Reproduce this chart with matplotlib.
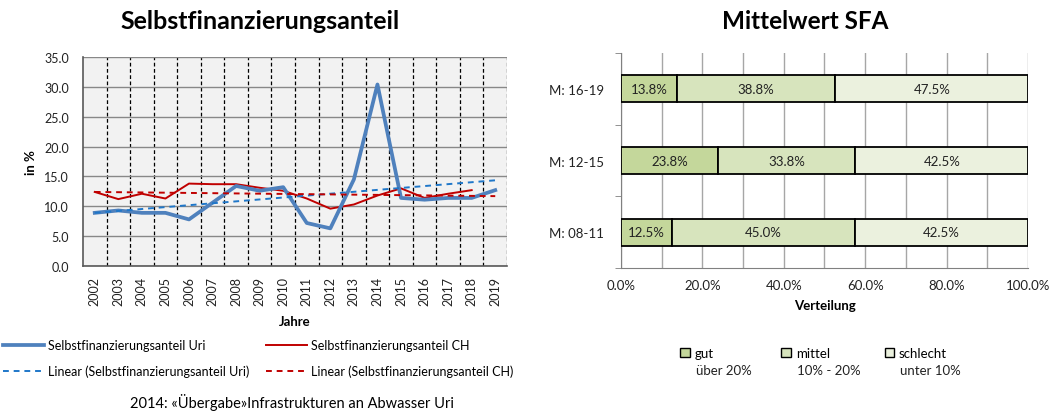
import matplotlib
matplotlib.use("Agg")
import matplotlib.pyplot as plt
import numpy as np
from matplotlib.patches import Patch

plt.rcParams['font.family'] = ['Lato', 'DejaVu Sans']

# data, left chart
years = [str(y) for y in range(2002, 2020)]
sfa_uri = [8.9, 9.3, 8.9, 8.9, 7.8, 10.6, 13.4, 12.6, 13.2, 7.2, 6.3, 14.5,
           30.4, 11.4, 11.1, 11.4, 11.4, 12.7]
sfa_ch = [12.4, 11.2, 12.1, 11.3, 13.8, 13.7, 13.7, 13.1, 12.6, 11.3, 9.6,
          10.3, 11.8, 13.0, 11.4, 12.1, 12.7]
# trend line end points (2002, 2019)
trend_uri = [8.9, 14.35]
trend_ch = [12.4, 11.7]

# data, right chart
periods = ["M: 08-11", "M: 12-15", "M: 16-19"]
gut = [12.5, 23.8, 13.8]
mittel = [45.0, 33.8, 38.8]
schlecht = [42.5, 42.5, 47.5]
cat_names = ["gut", "mittel", "schlecht"]
cat_sub = ["über 20%", "10% - 20%", "unter 10%"]
cat_colors = ["#C4D79B", "#D7E4BD", "#EBF1DE"]

fig = plt.figure(figsize=(10.53, 4.14), dpi=100)

# ---------- left chart
ax = fig.add_axes([0.0788, 0.3551, 0.4027, 0.5048])
ax.set_facecolor("#F2F2F2")
x = np.arange(len(years))
ax.plot(x, sfa_uri, color="#4F81BD", lw=2.7, solid_joinstyle="round",
        label="Selbstfinanzierungsanteil Uri", zorder=4)
ax.plot(x[:len(sfa_ch)], sfa_ch, color="#C00000", lw=1.4,
        label="Selbstfinanzierungsanteil CH", zorder=3)
ax.plot([x[0], x[-1]], trend_uri, color="#1F77C9", lw=1.4, ls=(0, (3, 2.5)),
        label="Linear (Selbstfinanzierungsanteil Uri)", zorder=5)
ax.plot([x[0], x[-1]], trend_ch, color="#C00000", lw=1.4, ls=(0, (3, 2.5)),
        label="Linear (Selbstfinanzierungsanteil CH)", zorder=5)

ax.set_xlim(-0.5, len(years) - 0.5)
ax.set_ylim(0, 35)
ax.set_yticks(np.arange(0, 36, 5))
ax.set_yticklabels([f"{v:.1f}" for v in np.arange(0, 36, 5)])
ax.set_xticks(x)
ax.set_xticklabels(years, rotation=90)
ax.set_xticks(np.arange(0.5, len(years), 1), minor=True)
ax.tick_params(axis="both", which="both", length=0, labelsize=9, colors="#222222")
ax.tick_params(axis="y", pad=10)
ax.tick_params(axis="x", pad=7)
ax.grid(axis="y", which="major", color="#888888", lw=1)
ax.grid(axis="x", which="minor", color="black", lw=0.9, ls=(0, (3, 2)))
ax.set_axisbelow(True)
for s in ["top", "right"]:
    ax.spines[s].set_visible(False)
ax.spines["left"].set_color("#595959")
ax.spines["bottom"].set_color("#595959")
ax.spines["left"].set_linewidth(1.2)
ax.spines["bottom"].set_linewidth(1.2)
ax.set_xlabel("Jahre", fontsize=9.5, fontweight="bold", labelpad=7)
ax.set_ylabel("in %", fontsize=9.5, fontweight="bold", labelpad=5)
fig.text(0.247, 0.949, "Selbstfinanzierungsanteil", fontsize=18,
         fontweight="bold", ha="center", va="center")

h, l = ax.get_legend_handles_labels()
order = [0, 2, 1, 3]
fig.legend([h[i] for i in order], [l[i] for i in order], ncol=2,
           loc="upper left", bbox_to_anchor=(-0.002, 0.190), frameon=False,
           fontsize=9, handlelength=3.3, handletextpad=0.3, columnspacing=1.3,
           labelspacing=1.05, borderaxespad=0)
fig.text(0.277, 0.008, "2014: «Übergabe»Infrastrukturen an Abwasser Uri",
         fontsize=10.5, ha="center", va="bottom")

# ---------- right chart
bx = fig.add_axes([0.5897, 0.3502, 0.3866, 0.5193])
y = np.arange(len(periods))
left = np.zeros(len(periods))
for vals, name, col in zip([gut, mittel, schlecht], cat_names, cat_colors):
    vals = np.array(vals)
    bx.barh(y, vals, left=left, height=0.38, color=col,
            edgecolor="black", lw=1.3, label=name, zorder=3)
    for yi, li, v in zip(y, left, vals):
        bx.text(li + v / 2, yi, f"{v:.1f}%", ha="center", va="center",
                fontsize=9.5, color="#222222", zorder=4)
    left = left + vals

bx.set_xlim(0, 100)
bx.set_ylim(-0.5, len(periods) - 0.5)
bx.set_xticks(np.arange(0, 101, 20))
bx.set_xticklabels([f"{v:.1f}%" for v in np.arange(0, 101, 20)])
bx.set_xticks(np.arange(0, 101, 10), minor=True)
bx.set_yticks(y)
bx.set_yticklabels(periods)
bx.set_yticks(np.arange(-0.5, len(periods), 1), minor=True)
bx.grid(axis="x", which="both", color="#A6A6A6", lw=1)
bx.set_axisbelow(True)
bx.tick_params(axis="both", which="both", length=0, labelsize=9.5, colors="#222222")
bx.tick_params(axis="y", which="minor", length=4, color="#808080", left=True)
bx.tick_params(axis="y", pad=12)
bx.tick_params(axis="x", pad=8)
for s in ["top", "right"]:
    bx.spines[s].set_visible(False)
bx.spines["left"].set_color("#808080")
bx.spines["bottom"].set_color("#808080")
bx.set_xlabel("Verteilung", fontsize=9.5, fontweight="bold", labelpad=6)
fig.text(0.765, 0.949, "Mittelwert SFA", fontsize=17.5,
         fontweight="bold", ha="center", va="center")

# legend entries, one per column, second line as plain text
leg_x = [0.641, 0.737, 0.835]
for lx, c, name, sub in zip(leg_x, cat_colors, cat_names, cat_sub):
    fig.legend([Patch(facecolor=c, edgecolor="black", lw=1)], [name],
               loc="upper left", bbox_to_anchor=(lx, 0.172), frameon=False,
               fontsize=9.5, handlelength=0.75, handleheight=0.75,
               handletextpad=0.35, borderaxespad=0)
    fig.text(lx + 0.020, 0.104, sub, fontsize=9.5, ha="left", va="center",
             color="#222222")

fig.savefig("out.png", dpi=100)
